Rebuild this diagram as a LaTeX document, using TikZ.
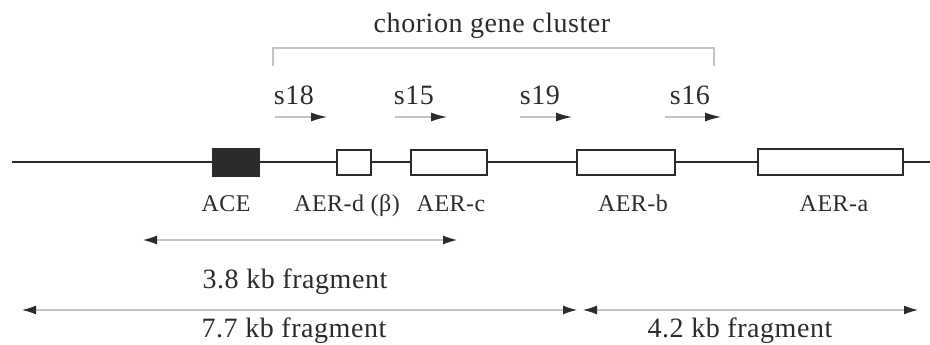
\documentclass[tikz,border=0pt]{standalone}
\usepackage{fontspec}
\setmainfont{Liberation Serif}[LetterSpace=2]
\usetikzlibrary{arrows.meta}
\definecolor{ink}{HTML}{2B2B2B}
\definecolor{faint}{HTML}{C4C4C4}
\tikzset{
  gene/.style={draw=ink, line width=2pt, fill=white, inner sep=0pt},
  lbl/.style={text=ink, anchor=base, inner sep=0pt, font=\fontsize{28}{30}\selectfont},
  genelbl/.style={lbl, font=\fontsize{24}{28}\selectfont},
  sarrow/.style={faint, line width=1.2pt, -{Latex[length=16pt,width=9pt,color=ink]}},
  frag/.style={faint, line width=1.2pt, {Latex[length=14pt,width=9pt,color=ink]}-{Latex[length=14pt,width=9pt,color=ink]}}
}

\begin{document}
\begin{tikzpicture}[x=1pt, y=-1pt]
\useasboundingbox (0,0) rectangle (930,345);
% genes on the chromosome
\node[gene, fill=ink, minimum width=46pt, minimum height=27pt] (ace) at (235.5,162) {};
\node[gene, minimum width=34pt, minimum height=25pt] (aerd) at (354,162) {};
\node[gene, minimum width=76pt, minimum height=25pt] (aerc) at (449,162) {};
\node[gene, minimum width=98pt, minimum height=25pt] (aerb) at (626,162) {};
\node[gene, minimum width=145pt, minimum height=26pt] (aera) at (830.5,162) {};
\coordinate (left) at (12,162);
\coordinate (right) at (930,162);
\draw[ink, line width=2.2pt] (left) -- (ace) -- (aerd) -- (aerc) -- (aerb) -- (aera) -- (right);
\foreach \x/\N/\A in {226/lace/ACE, 347/laerd/AER-d (β), 451/laerc/AER-c, 633/laerb/AER-b, 834/laera/AER-a} {
    \node[genelbl] (\N) at (\x,211) {\A};
}
% cluster bracket
\coordinate (bl) at (273,66);
\coordinate (tl) at (273,48);
\coordinate (tr) at (714,48);
\coordinate (br) at (714,66);
\draw[faint, line width=1.2pt] (bl) -- (tl) -- (tr) -- (br);
\node[lbl] (cluster) at (492,33) {chorion gene cluster};
% transcription direction
\foreach \N/\a/\b/\t in {s18/275/327/294, s15/395/447/414, s19/520/572/540, s16/665/721/690} {
    \coordinate (\N a) at (\a,117);
    \coordinate (\N b) at (\b,117);
    \draw[sarrow] (\N a) -- (\N b);
    \node[lbl] (\N) at (\t,105) {\N};
}
% restriction fragments
\coordinate (f1a) at (143,240);
\coordinate (f1b) at (457,240);
\coordinate (f2a) at (22,310);
\coordinate (f2b) at (577,310);
\coordinate (f3a) at (583,310);
\coordinate (f3b) at (918,310);
\draw[frag] (f1a) -- (f1b);
\draw[frag] (f2a) -- (f2b);
\draw[frag] (f3a) -- (f3b);
\node[lbl] (l38) at (295,288) {3.8 kb fragment};
\node[lbl] (l77) at (294,337) {7.7 kb fragment};
\node[lbl] (l42) at (740,337) {4.2 kb fragment};
\end{tikzpicture}
\end{document}
